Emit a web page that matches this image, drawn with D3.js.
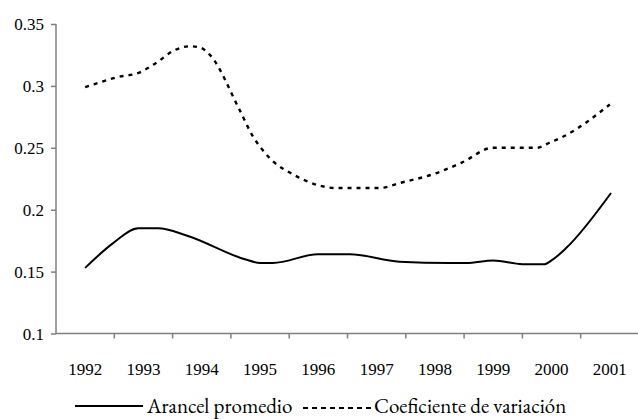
<!DOCTYPE html>
<html>
<head>
    <meta charset="utf-8">
    <title>Arancel promedio y coeficiente de variación</title>
    <script src="https://cdnjs.cloudflare.com/ajax/libs/d3/7.8.5/d3.min.js"></script>
    <style>
        body {
            margin: 0;
            background: white;
        }
        svg text {
            font-family: "EB Garamond", "Liberation Serif", serif;
            fill: #000;
        }
        svg text.num {
            font-family: "Liberation Serif", serif;
        }
    </style>
</head>
<body>
    <div id="chart"></div>

    <script>
        // categories on the x axis
        const years = ["1992", "1993", "1994", "1995", "1996", "1997", "1998", "1999", "2000", "2001"];
        const yTicks = [0.1, 0.15, 0.2, 0.25, 0.3, 0.35];

        // Arancel promedio (fractional year, value)
        const arancelYears = [1992.0, 1992.48, 1992.91, 1993.25, 1993.75, 1994.74, 1995.0, 1995.22,
            1995.99, 1996.54, 1997.39, 1998.25, 1998.54, 1999.0, 1999.5, 1999.88, 2000.0, 2000.25, 2001.02];
        const arancelValues = [0.153, 0.173, 0.185, 0.185, 0.179, 0.160, 0.157, 0.157,
            0.164, 0.164, 0.158, 0.157, 0.157, 0.159, 0.156, 0.156, 0.159, 0.169, 0.2135];

        // Coeficiente de variación
        const coefYears = [1992.0, 1992.55, 1992.94, 1993.23, 1993.54, 1993.8, 1993.97, 1994.14,
            1994.65, 1994.88, 1995.03, 1995.25, 1995.51, 1996.02, 1996.28, 1997.05, 1997.39,
            1997.99, 1998.46, 1998.99, 1999.74, 1999.96, 2000.22, 2001.0];
        const coefValues = [0.299, 0.307, 0.311, 0.319, 0.329, 0.332, 0.331, 0.325,
            0.2805, 0.259, 0.249, 0.238, 0.230, 0.2195, 0.2175, 0.2175, 0.2215,
            0.229, 0.238, 0.250, 0.250, 0.254, 0.2595, 0.285];

        const width = 638, height = 419;
        const plotLeft = 56, plotRight = 639, plotTop = 24, plotBottom = 333.5;

        const svg = d3.select("#chart").append("svg")
            .attr("width", width)
            .attr("height", height);

        const xBand = d3.scaleBand().domain(years).range([plotLeft, plotRight]);
        // continuous position for fractional years, centred on the bands
        const x = d3.scaleLinear()
            .domain([+years[0] - 0.5, +years[years.length - 1] + 0.5])
            .range([plotLeft, plotRight]);
        const y = d3.scaleLinear().domain([0.1, 0.35]).range([plotBottom, plotTop]);

        const axisColor = "#7f7f7f";

        // y axis
        const yAxis = svg.append("g")
            .attr("transform", `translate(${plotLeft},0)`)
            .call(d3.axisLeft(y).tickValues(yTicks).tickSize(5).tickPadding(7)
                .tickFormat(d => String(+d.toFixed(2))));
        yAxis.select(".domain").attr("stroke", axisColor).attr("stroke-width", 1.5)
            .attr("d", `M0,${plotTop}V${plotBottom}`);
        yAxis.selectAll(".tick line").attr("stroke", axisColor).attr("stroke-width", 1.5);
        yAxis.selectAll("text").attr("class", "num")
            .style("font-size", "17px").attr("dy", "0.33em");

        // x axis: ticks between categories
        const xAxis = svg.append("g")
            .attr("transform", `translate(0,${plotBottom})`);
        xAxis.append("line")
            .attr("x1", plotLeft).attr("x2", plotRight)
            .attr("stroke", axisColor).attr("stroke-width", 1.5);
        xAxis.selectAll(".xtick")
            .data(years.slice(1))
            .join("line")
            .attr("class", "xtick")
            .attr("x1", d => xBand(d)).attr("x2", d => xBand(d))
            .attr("y1", 0).attr("y2", 5)
            .attr("stroke", axisColor).attr("stroke-width", 1.5);
        xAxis.selectAll(".xlabel")
            .data(years)
            .join("text")
            .attr("class", "xlabel num")
            .attr("x", d => xBand(d) + xBand.bandwidth() / 2)
            .attr("y", 41)
            .attr("text-anchor", "middle")
            .style("font-size", "17px")
            .text(d => d);

        const line = d3.line()
            .x(d => x(d[0]))
            .y(d => y(d[1]))
            .curve(d3.curveMonotoneX);

        svg.append("path")
            .datum(d3.zip(arancelYears, arancelValues))
            .attr("fill", "none")
            .attr("stroke", "#000")
            .attr("stroke-width", 2)
            .attr("d", line);

        svg.append("path")
            .datum(d3.zip(coefYears, coefValues))
            .attr("fill", "none")
            .attr("stroke", "#000")
            .attr("stroke-width", 2.4)
            .attr("stroke-dasharray", "4,5")
            .attr("d", line);

        // legend
        const legend = svg.append("g");
        legend.append("line")
            .attr("x1", 75).attr("x2", 143).attr("y1", 406).attr("y2", 406)
            .attr("stroke", "#000").attr("stroke-width", 2);
        legend.append("text")
            .attr("x", 147).attr("y", 413)
            .style("font-size", "21px")
            .text("Arancel promedio");
        legend.append("line")
            .attr("x1", 303).attr("x2", 372).attr("y1", 408).attr("y2", 408)
            .attr("stroke", "#000").attr("stroke-width", 2)
            .attr("stroke-dasharray", "5,4");
        legend.append("text")
            .attr("x", 374).attr("y", 413)
            .style("font-size", "21px")
            .text("Coeficiente de variación");
    </script>
</body>
</html>
